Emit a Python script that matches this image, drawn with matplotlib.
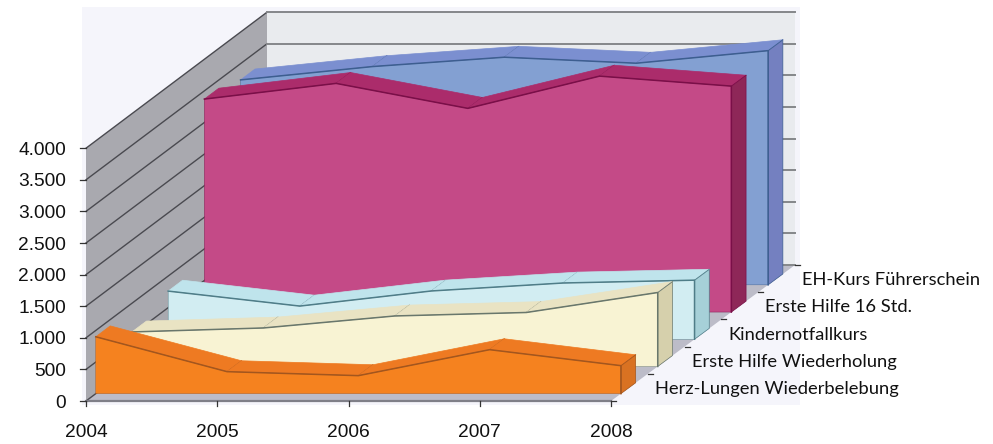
import matplotlib
matplotlib.use("Agg")
import matplotlib.pyplot as plt
from matplotlib.patches import Rectangle, Polygon

# values
years = [2004, 2005, 2006, 2007, 2008]
y_ticks = [0, 500, 1000, 1500, 2000, 2500, 3000, 3500, 4000]
y_tick_labels = ["0", "500", "1.000", "1.500", "2.000", "2.500", "3.000", "3.500", "4.000"]
series_names = ["Herz-Lungen Wiederbelebung", "Erste Hilfe Wiederholung", "Kindernotfallkurs",
                "Erste Hilfe 16 Std.", "EH-Kurs Führerschein"]
herz_lungen = [900, 348, 285, 696, 443]
erste_hilfe_wdh = [546, 609, 799, 854, 1170]
kindernotfall = [762, 525, 764, 890, 935]
erste_hilfe_16 = [3370, 3618, 3223, 3733, 3575]
eh_kurs = [3243, 3454, 3602, 3507, 3706]
all_series = [herz_lungen, erste_hilfe_wdh, kindernotfall, erste_hilfe_16, eh_kurs]

# front, top, side, edge
colors = [("#f5821f", "#ee7a22", "#d97222", "#a3561e"),
          ("#f8f3d3", "#e9e3c3", "#d6d0ac", "#69776c"),
          ("#d2edf2", "#bfe4ec", "#a6d0d8", "#4f7d88"),
          ("#c44a87", "#ab2c6b", "#8e2758", "#7a0f48"),
          ("#83a0d2", "#7b8fd0", "#7480c0", "#3d5e90")]

X0, Y0 = 86, 401       # pixel of 2004 / 0 / front
X_STEP = 131.25        # pixel per year
Y_SCALE = 31.6 / 500   # pixel per value
DX, DY = 36.2, -27.2   # pixel per series in depth


def proj(year, depth, value):
    return (X0 + (year - years[0]) * (X_STEP + 0.15 * depth) + depth * DX,
            Y0 - value * Y_SCALE + depth * DY)


def poly(pts, fc, ec="none", lw=0.0):
    # same zorder as the lines, so drawing order decides
    ax.add_patch(Polygon(pts, fc=fc, ec=ec, lw=lw, zorder=2))


def line(pts, color, lw):
    xs, ys = zip(*pts)
    ax.plot(xs, ys, color=color, lw=lw, zorder=2)


plt.rcParams['font.family'] = ['Liberation Sans', 'DejaVu Sans']
fig = plt.figure(figsize=(9.93, 4.44), dpi=100)
ax = fig.add_axes([0, 0, 1, 1])
ax.set_xlim(0, 993)
ax.set_ylim(444, 0)
ax.axis("off")

ax.add_patch(Rectangle((82, 7), 718, 398, color="#f5f5fb", lw=0, zorder=1))

y0, y1 = years[0], years[-1]
top = y_ticks[-1]
n = len(all_series)
# walls and floor
poly([proj(y0, n, 0), proj(y1, n, 0), proj(y1, n, top), proj(y0, n, top)], "#e9ebee")
poly([proj(y0, 0, 0), proj(y0, n, 0), proj(y0, n, top), proj(y0, 0, top)], "#a9a9af")
poly([proj(y0, 0, 0), proj(y1, 0, 0), proj(y1, n, 0), proj(y0, n, 0)], "#bcbcc8")

for v in y_ticks:
    line([proj(y0, 0, v), proj(y0, n, v)], "#4a4a50", 1.0)
    line([proj(y0, n, v), proj(y1, n, v)], "#85878a", 1.4)

# one block per series, from back to front
for i in reversed(range(n)):
    vals = all_series[i]
    front, top_c, side, edge = colors[i]
    d0, d1 = i + 0.27, i + 0.67
    poly([proj(y1, d0, 0), proj(y1, d0, vals[-1]), proj(y1, d1, vals[-1]), proj(y1, d1, 0)], side, edge, 0.5)
    for j in range(len(years) - 1):
        poly([proj(years[j], d0, vals[j]), proj(years[j + 1], d0, vals[j + 1]),
              proj(years[j + 1], d1, vals[j + 1]), proj(years[j], d1, vals[j])], top_c, top_c, 0.5)
        line([proj(years[j + 1], d0, vals[j + 1]), proj(years[j + 1], d1, vals[j + 1])], edge, 0.6)
    top_edge = [proj(yr, d0, v) for yr, v in zip(years, vals)]
    poly([proj(y0, d0, 0)] + top_edge + [proj(y1, d0, 0)], front, edge, 0.3)
    line(top_edge + [proj(y1, d0, 0)], edge, 1.1)

# axis line and ticks
line([proj(y0, 0, 0), proj(y1, 0, 0)], "#7f7f88", 1.6)
for v, lab in zip(y_ticks, y_tick_labels):
    x, y = proj(y0, 0, v)
    line([(x - 6, y), (x, y)], "#333333", 0.9)
    ax.text(66, y + 2, lab, ha="right", va="center", fontsize=13.8, color="#111111")
for yr in years:
    x, y = proj(yr, 0, 0)
    line([(x, y), (x, y + 5)], "#333333", 0.9)
    ax.text(x, y + 31, str(yr), ha="center", va="center", fontsize=13.8, color="#111111")
for d in range(n + 1):
    x, y = proj(y1, d, 0)
    line([(x, y), (x + 5, y)], "#333333", 0.9)
for d, name in enumerate(series_names):
    x, y = proj(y1, d, 0)
    ax.text(x + 44, y - 12, name, ha="left", va="center", fontsize=13.2, color="#111111",
            family=["Lato", "DejaVu Sans"])

fig.savefig("out.png", dpi=100)
